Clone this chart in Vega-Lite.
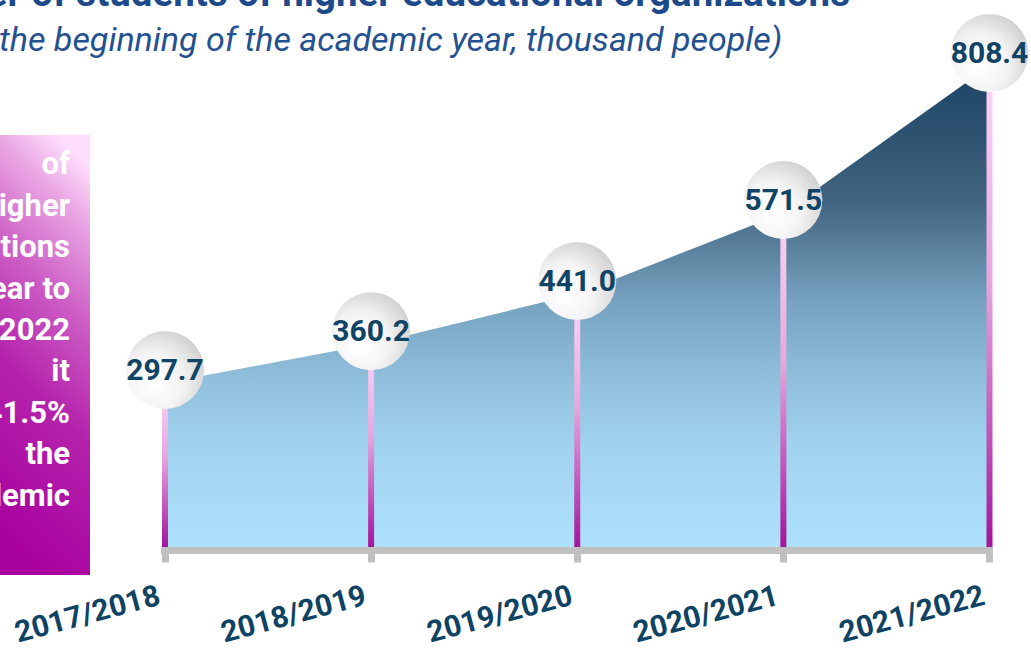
{
  "$schema": "https://vega.github.io/schema/vega-lite/v6.json",
  "width": 1031,
  "height": 412,
  "autosize": {"type": "none"},
  "padding": {"left": 0, "top": 135, "right": 0, "bottom": 113},
  "background": "white",
  "config": {"view": {"stroke": null}, "font": "Roboto"},
  "title": {
    "text": "Number of students of higher educational organizations",
    "subtitle": "(at the beginning of the academic year, thousand people)",
    "anchor": "middle",
    "frame": "group",
    "dx": -149,
    "font": "Roboto",
    "fontSize": 38.5,
    "fontWeight": "bold",
    "color": "#1d4a8a",
    "subtitleFont": "Roboto",
    "subtitleFontSize": 34,
    "subtitleFontStyle": "italic",
    "subtitleFontWeight": "normal",
    "subtitleColor": "#24518f",
    "subtitlePadding": 9,
    "offset": -45
  },
  "datasets": {
    "students": [
      {"year": "2017/2018", "students": 297.7},
      {"year": "2018/2019", "students": 360.2},
      {"year": "2019/2020", "students": 441.0},
      {"year": "2020/2021", "students": 571.5},
      {"year": "2021/2022", "students": 808.4}
    ],
    "boxlines": [
      {"line": 1, "text": "of"},
      {"line": 2, "text": "higher"},
      {"line": 3, "text": "organizations"},
      {"line": 4, "text": "year to"},
      {"line": 5, "text": "2022"},
      {"line": 6, "text": "it"},
      {"line": 7, "text": "41.5%"},
      {"line": 8, "text": "the"},
      {"line": 9, "text": "academic"}
    ]
  },
  "layer": [
    {
      "data": {"name": "students"},
      "mark": {
        "type": "area",
        "stroke": null,
        "fill": {
          "gradient": "linear", "x1": 0, "y1": 0, "x2": 0, "y2": 1,
          "stops": [
            {"offset": 0, "color": "#1b4364"},
            {"offset": 0.28, "color": "#41637f"},
            {"offset": 0.49, "color": "#76a2bf"},
            {"offset": 0.66, "color": "#91c1dd"},
            {"offset": 0.8, "color": "#a2d3ef"},
            {"offset": 1, "color": "#ade1fc"}
          ]
        }
      },
      "encoding": {
        "x": {
          "field": "year",
          "type": "nominal",
          "scale": {"type": "point", "domain": ["2017/2018", "2018/2019", "2019/2020", "2020/2021", "2021/2022"], "padding": 0.5009, "align": 0.799},
          "axis": {
            "title": null,
            "domain": false,
            "grid": false,
            "ticks": true,
            "tickColor": "#c0c0c0",
            "tickWidth": 7,
            "tickSize": 15,
            "labelAngle": -15,
            "labelAlign": "right",
            "labelBaseline": "middle",
            "labelPadding": 33,
            "labelOffset": -6,
            "labelFont": "Roboto",
            "labelFontSize": 30,
            "labelFontWeight": "bold",
            "labelColor": "#0e4364",
            "labelOverlap": false
          }
        },
        "y": {"field": "students", "type": "quantitative", "scale": {"domain": [33.4, 697.2], "zero": false, "nice": false}, "axis": null},
        "y2": {"datum": 33.4}
      }
    },
    {
      "data": {"name": "students"},
      "mark": {
        "type": "bar",
        "width": 6,
        "fill": {
          "gradient": "linear", "x1": 0, "y1": 0, "x2": 0, "y2": 1,
          "stops": [
            {"offset": 0, "color": "#fcd7f7"},
            {"offset": 0.45, "color": "#e6a6de"},
            {"offset": 1, "color": "#a3159b"}
          ]
        }
      },
      "encoding": {
        "x": {"field": "year", "type": "nominal", "scale": {"type": "point", "domain": ["2017/2018", "2018/2019", "2019/2020", "2020/2021", "2021/2022"], "padding": 0.5009, "align": 0.799}, "axis": null},
        "y": {"field": "students", "type": "quantitative", "scale": {"domain": [33.4, 697.2], "zero": false, "nice": false}, "axis": null},
        "y2": {"datum": 33.4}
      }
    },
    {
      "data": {"name": "students"},
      "mark": {"type": "rule", "color": "#c0c0c0", "strokeWidth": 7, "strokeCap": "square"},
      "encoding": {
        "x": {"datum": "2017/2018", "type": "nominal", "scale": {"type": "point", "domain": ["2017/2018", "2018/2019", "2019/2020", "2020/2021", "2021/2022"], "padding": 0.5009, "align": 0.799}, "axis": null},
        "x2": {"datum": "2021/2022"},
        "y": {"datum": 27.8, "type": "quantitative", "scale": {"domain": [33.4, 697.2], "zero": false, "nice": false}, "axis": null}
      }
    },
    {
      "data": {"name": "students"},
      "mark": {
        "type": "point",
        "filled": true,
        "size": 6082,
        "opacity": 1,
        "strokeWidth": 0,
        "yOffset": -13,
        "fill": {
          "gradient": "radial", "x1": 0.35, "y1": 0.65, "r1": 0, "x2": 0.35, "y2": 0.65, "r2": 0.75,
          "stops": [
            {"offset": 0, "color": "#ffffff"},
            {"offset": 0.5, "color": "#f4f4f4"},
            {"offset": 1, "color": "#cdcdcd"}
          ]
        }
      },
      "encoding": {
        "x": {"field": "year", "type": "nominal", "scale": {"type": "point", "domain": ["2017/2018", "2018/2019", "2019/2020", "2020/2021", "2021/2022"], "padding": 0.5009, "align": 0.799}, "axis": null},
        "y": {"field": "students", "type": "quantitative", "scale": {"domain": [33.4, 697.2], "zero": false, "nice": false}, "axis": null}
      }
    },
    {
      "data": {"name": "students"},
      "mark": {
        "type": "text",
        "font": "Roboto",
        "fontSize": 30,
        "fontWeight": "bold",
        "color": "#0f4466",
        "baseline": "middle",
        "align": "center",
        "yOffset": -12
      },
      "encoding": {
        "x": {"field": "year", "type": "nominal", "scale": {"type": "point", "domain": ["2017/2018", "2018/2019", "2019/2020", "2020/2021", "2021/2022"], "padding": 0.5009, "align": 0.799}, "axis": null},
        "y": {"field": "students", "type": "quantitative", "scale": {"domain": [33.4, 697.2], "zero": false, "nice": false}, "axis": null},
        "text": {"field": "students", "type": "quantitative", "format": ".1f"}
      }
    },
    {
      "data": {"values": [{"box": "box"}]},
      "mark": {
        "type": "rect",
        "width": 90,
        "height": 440,
        "fill": {
          "gradient": "linear", "x1": 0.6, "y1": 0, "x2": 0.4, "y2": 1,
          "stops": [
            {"offset": 0, "color": "#fedcfb"},
            {"offset": 0.12, "color": "#eaa8e4"},
            {"offset": 0.35, "color": "#cc5cc4"},
            {"offset": 0.6, "color": "#b422ab"},
            {"offset": 1, "color": "#a8009f"}
          ]
        }
      },
      "encoding": {
        "x": {"field": "box", "type": "nominal", "scale": {"type": "point", "align": 0.04365}, "axis": null},
        "y": {"field": "box", "type": "nominal", "scale": {"type": "point", "align": 0.534}, "axis": null}
      }
    },
    {
      "data": {"name": "boxlines"},
      "mark": {
        "type": "text",
        "align": "right",
        "baseline": "middle",
        "font": "Roboto",
        "fontSize": 31,
        "fontWeight": "bold",
        "color": "#ffffff"
      },
      "encoding": {
        "x": {"datum": "text", "type": "nominal", "scale": {"type": "point", "align": 0.0679}, "axis": null},
        "y": {"field": "line", "type": "ordinal", "sort": null, "scale": {"type": "point", "padding": 0.964, "align": 0.375}, "axis": null},
        "text": {"field": "text"}
      }
    }
  ],
  "resolve": {"scale": {"x": "independent", "y": "independent"}}
}
